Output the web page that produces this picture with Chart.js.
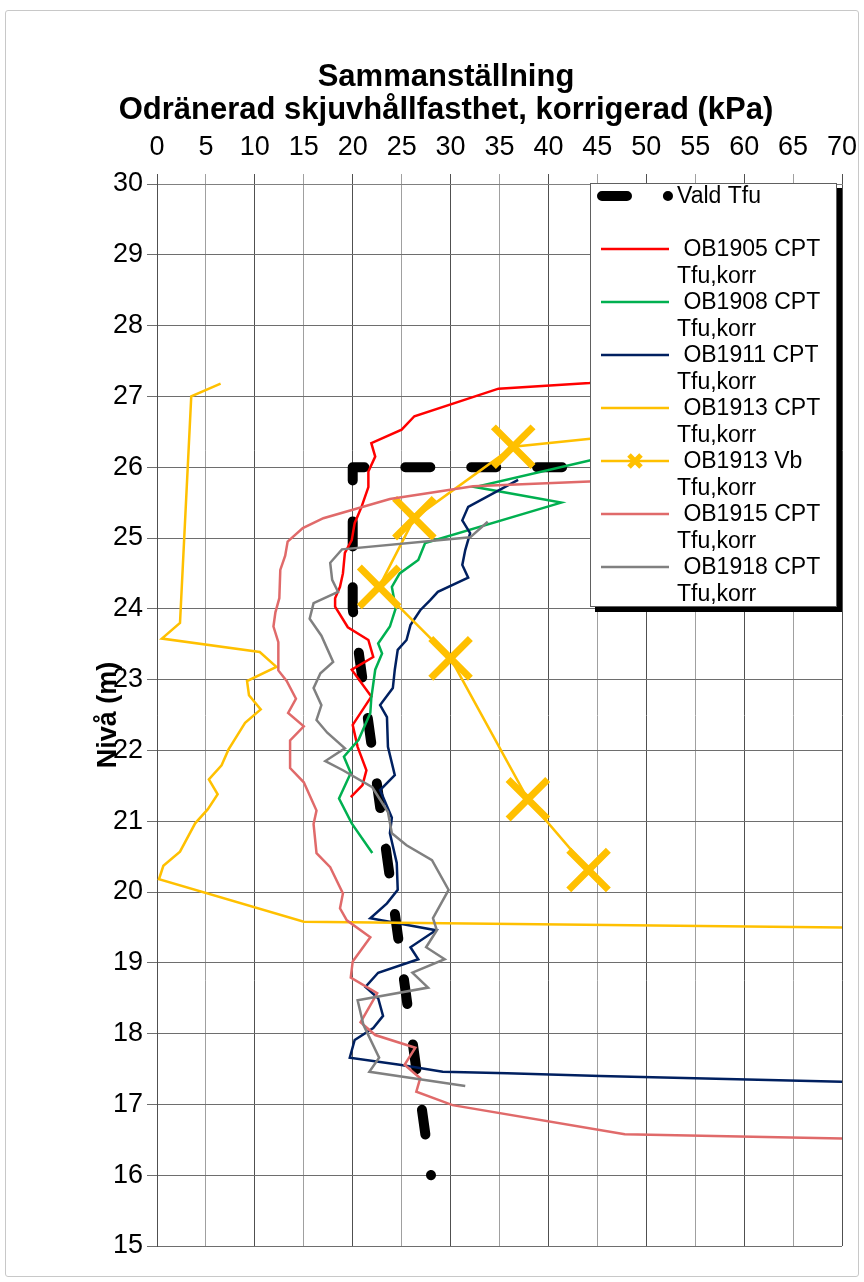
<!DOCTYPE html>
<html>
<head>
<meta charset="utf-8">
<script src="https://cdn.jsdelivr.net/npm/chart.js@4.4.1/dist/chart.umd.min.js"></script>
<style>
  html, body { margin: 0; padding: 0; background: #fff; overflow: hidden; }
  #wrap { position: relative; width: 864px; height: 1282px; }
  #frame { position: absolute; left: 5px; top: 10px; width: 852px; height: 1265px; border: 1px solid #c8c8c8; border-radius: 3px; pointer-events: none; }
  canvas { position: absolute; left: 0; top: 0; }
</style>
</head>
<body>
<div id="wrap">
  <canvas id="graph" width="864" height="1282"></canvas>
  <div id="frame"></div>
</div>
<script>
const fontFam = '"Liberation Sans", Arial, sans-serif'

const titelRader = ['Sammanställning', 'Odränerad skjuvhållfasthet, korrigerad (kPa)']
const yTitel = 'Nivå (m)'

// skjuvhållfasthet (kPa) och nivå (m) per sondering
const valdKpa = [41.4, 20, 20, 28]
const valdNiva = [26, 26, 24, 16]

const ob1905Kpa = [19.8, 21.0, 21.4, 20.5, 20.0, 21.9, 19.9, 22.1, 21.6, 19.5, 18.2, 18.2, 18.7, 19.0, 19.2, 19.9, 20.2, 20.9, 21.6, 21.6, 22.3, 21.9, 25.0, 26.3, 34.9, 44.2, 70]
const ob1905Niva = [21.34, 21.51, 21.72, 22.05, 22.36, 22.76, 23.14, 23.32, 23.56, 23.74, 24.03, 24.15, 24.31, 24.50, 24.79, 24.97, 25.21, 25.44, 25.72, 25.94, 26.15, 26.34, 26.53, 26.72, 27.11, 27.19, 27.64]

const ob1908Kpa = [22.0, 19.9, 18.6, 19.8, 19.1, 20.6, 21.8, 21.9, 22.3, 23.0, 22.6, 23.8, 24.4, 24.0, 24.8, 26.7, 27.4, 41.3, 32.5, 45.3, 50]
const ob1908Niva = [20.55, 20.97, 21.32, 21.68, 21.91, 22.15, 22.53, 22.74, 23.14, 23.37, 23.51, 23.75, 24.01, 24.31, 24.50, 24.69, 24.93, 25.5, 25.72, 26.13, 26.25]

const ob1911Kpa = [36.9, 31.8, 31.2, 32.0, 31.5, 31.2, 31.8, 28.7, 27.9, 26.9, 25.9, 25.5, 24.6, 24.3, 24.1, 22.8, 23.5, 23.6, 24.3, 22.8, 24.0, 23.8, 24.5, 24.6, 23.5, 21.8, 28.5, 25.9, 26.7, 22.6, 21.3, 22.6, 23.1, 22.1, 20.2, 19.7, 24.8, 29.2, 35.8, 45.3, 70]
const ob1911Niva = [25.82, 25.44, 25.25, 25.07, 24.83, 24.62, 24.44, 24.24, 24.12, 23.98, 23.77, 23.56, 23.42, 23.14, 22.88, 22.64, 22.47, 22.05, 21.65, 21.44, 21.05, 20.83, 20.41, 20.03, 19.84, 19.63, 19.46, 19.22, 19.05, 18.86, 18.66, 18.50, 18.25, 18.08, 17.91, 17.66, 17.56, 17.46, 17.44, 17.40, 17.32]

const ob1913Kpa = [6.5, 3.5, 2.35, 0.5, 10.5, 12.2, 9.2, 9.4, 10.6, 9.0, 7.3, 6.6, 5.3, 6.2, 5.2, 3.9, 2.35, 0.65, 0.2, 15.0, 70]
const ob1913Niva = [27.18, 27.0, 23.80, 23.58, 23.39, 23.18, 22.98, 22.78, 22.58, 22.39, 22.01, 21.79, 21.59, 21.38, 21.17, 20.97, 20.57, 20.37, 20.18, 19.58, 19.5]

const vbKpa = [100, 36.4, 26.3, 22.7, 30.0, 37.9, 44.1]
const vbNiva = [27.2, 26.29, 25.28, 24.31, 23.3, 21.31, 20.31]

const ob1915Kpa = [70, 44.2, 32.3, 23.8, 20.0, 17.0, 14.9, 13.35, 13.1, 12.6, 12.5, 12.1, 11.9, 12.4, 12.4, 13.25, 14.2, 13.4, 15.0, 13.6, 13.6, 15.0, 16.3, 16.0, 16.3, 17.7, 19.0, 18.7, 19.4, 21.8, 20.0, 19.8, 22.5, 20.8, 22.3, 26.4, 25.3, 26.9, 26.5, 30.2, 47.8, 70]
const ob1915Niva = [25.93, 25.80, 25.73, 25.55, 25.40, 25.28, 25.14, 24.95, 24.75, 24.55, 24.15, 23.95, 23.75, 23.53, 23.13, 22.98, 22.73, 22.53, 22.34, 22.14, 21.75, 21.55, 21.15, 20.96, 20.55, 20.35, 19.98, 19.77, 19.6, 19.36, 19.02, 18.79, 18.57, 18.16, 17.98, 17.80, 17.56, 17.37, 17.18, 16.99, 16.58, 16.52]

const ob1918Kpa = [33.8, 32.0, 18.9, 17.7, 17.9, 18.5, 16.0, 15.6, 16.8, 18.0, 16.7, 16.0, 16.8, 16.3, 17.4, 19.2, 17.2, 19.0, 22.0, 23.6, 24.0, 25.5, 28.1, 29.8, 28.2, 28.6, 27.5, 29.4, 26.1, 27.7, 20.5, 21.1, 22.7, 21.7, 31.5]
const ob1918Niva = [25.23, 25.01, 24.84, 24.65, 24.41, 24.24, 24.08, 23.86, 23.62, 23.25, 23.09, 22.88, 22.64, 22.43, 22.25, 22.03, 21.85, 21.72, 21.48, 21.13, 20.83, 20.66, 20.45, 20.03, 19.63, 19.46, 19.22, 19.05, 18.86, 18.65, 18.47, 18.12, 17.66, 17.46, 17.26]

function punkter(kpa, niva) {
  return kpa.map((v, i) => ({ x: v, y: niva[i] }))
}

function serie(label, kpa, niva, farg, ordning) {
  return {
    label: label,
    data: punkter(kpa, niva),
    showLine: true,
    borderColor: farg,
    backgroundColor: farg,
    borderWidth: 2.5,
    pointRadius: 0,
    order: ordning
  }
}

const datasets = [
  {
    label: 'Vald Tfu',
    data: punkter(valdKpa, valdNiva),
    showLine: true,
    borderColor: '#000000',
    borderWidth: 10,
    borderDash: [25, 40.9],
    borderCapStyle: 'round',
    borderJoinStyle: 'round',
    pointRadius: 0,
    order: 10
  },
  serie('OB1905 CPT Tfu,korr', ob1905Kpa, ob1905Niva, '#ff0000', 7),
  serie('OB1908 CPT Tfu,korr', ob1908Kpa, ob1908Niva, '#00b050', 6),
  serie('OB1911 CPT Tfu,korr', ob1911Kpa, ob1911Niva, '#002060', 5),
  serie('OB1913 CPT Tfu,korr', ob1913Kpa, ob1913Niva, '#ffc000', 4),
  Object.assign(serie('OB1913 Vb Tfu,korr', vbKpa, vbNiva, '#ffc000', 3), {
    pointStyle: 'crossRot', pointRadius: 28, pointBorderWidth: 7, pointBorderColor: '#ffc000'
  }),
  serie('OB1915 CPT Tfu,korr', ob1915Kpa, ob1915Niva, '#e06a6a', 2),
  serie('OB1918 CPT Tfu,korr', ob1918Kpa, ob1918Niva, '#808080', 1)
]

// legend i ruta med skugga, som i originalet
const rutLegend = {
  id: 'rutLegend',
  afterDraw(chart) {
    const ctx = chart.ctx
    const x0 = 590, y0 = 183, w = 247, h = 424
    ctx.save()
    ctx.fillStyle = '#000'
    ctx.fillRect(x0 + 5, y0 + 5, w, h)
    ctx.fillStyle = '#fff'
    ctx.fillRect(x0, y0, w, h)
    ctx.strokeStyle = '#606060'
    ctx.lineWidth = 1
    ctx.strokeRect(x0 + 0.5, y0 + 0.5, w - 1, h - 1)

    ctx.font = '23px ' + fontFam
    ctx.textBaseline = 'middle'
    ctx.textAlign = 'left'

    const ds = chart.data.datasets
    // Vald Tfu
    ctx.strokeStyle = ds[0].borderColor
    ctx.lineWidth = ds[0].borderWidth
    ctx.lineCap = 'round'
    ctx.setLineDash(ds[0].borderDash)
    ctx.beginPath()
    ctx.moveTo(602, 196)
    ctx.lineTo(668, 196)
    ctx.stroke()
    ctx.setLineDash([])
    ctx.lineCap = 'butt'
    ctx.fillStyle = '#000'
    ctx.fillText(ds[0].label, 677, 197)

    for (let i = 1; i < ds.length; i++) {
      const y = 249 + 53 * (i - 1)
      ctx.strokeStyle = ds[i].borderColor
      ctx.lineWidth = ds[i].borderWidth
      ctx.beginPath()
      ctx.moveTo(601, y)
      ctx.lineTo(669, y)
      ctx.stroke()
      if (ds[i].pointStyle === 'crossRot') {
        ctx.lineWidth = 5
        ctx.beginPath()
        ctx.moveTo(629, y - 6); ctx.lineTo(641, y + 6)
        ctx.moveTo(641, y - 6); ctx.lineTo(629, y + 6)
        ctx.stroke()
      }
      const delar = ds[i].label.split(' ')
      const andra = delar.pop()
      ctx.fillStyle = '#000'
      ctx.fillText(' ' + delar.join(' '), 677, y + 1)
      ctx.fillText(andra, 677, y + 28)
    }
    ctx.restore()
  }
}

Chart.defaults.font.family = fontFam
Chart.defaults.color = '#000'

const ctx = document.getElementById('graph').getContext('2d')
const chart = new Chart(ctx, {
  type: 'scatter',
  data: { datasets: datasets },
  options: {
    responsive: false,
    animation: false,
    devicePixelRatio: 1,
    layout: { autoPadding: false, padding: { left: 50, right: 22, top: 0, bottom: 36 } },
    plugins: {
      legend: { display: false },
      tooltip: { enabled: false },
      title: {
        display: true,
        text: titelRader,
        color: '#000',
        font: { size: 31, weight: 'bold', lineHeight: 1.065 },
        padding: { top: 60.5, bottom: 5 }
      }
    },
    scales: {
      x: {
        type: 'linear',
        position: 'top',
        min: 0,
        max: 70,
        ticks: { stepSize: 5, font: { size: 27 }, padding: 10, color: '#000', maxRotation: 0, autoSkip: false },
        grid: {
          color: c => (c.tick && c.tick.value % 10 === 0) ? '#505050' : '#a0a0a0',
          tickLength: 10,
          lineWidth: 1
        },
        border: { color: '#808080' },
        afterFit(s) {
          s.height = 52.5
          s.paddingLeft = 0
          s.paddingRight = 0
        }
      },
      y: {
        min: 15,
        max: 30,
        ticks: { stepSize: 1, font: { size: 27 }, padding: 4, color: '#000' },
        grid: { color: '#6e6e6e', tickLength: 10, lineWidth: 1 },
        border: { color: '#505050' },
        title: { display: true, text: yTitel, color: '#000', font: { size: 27, weight: 'bold' }, padding: { top: 42, bottom: 0 } },
        afterFit(s) { s.width = 107 }
      }
    }
  },
  plugins: [rutLegend]
})
</script>
</body>
</html>
